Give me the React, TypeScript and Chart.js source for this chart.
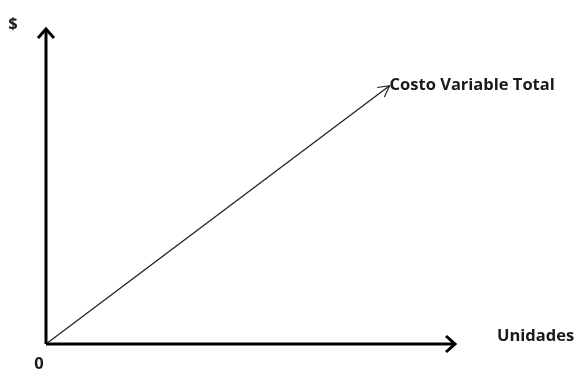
import React, { useEffect, useRef } from "react";
import { Chart, registerables } from "chart.js";

Chart.register(...registerables);

// Data (arbitrary units; graph is conceptual)
const axisMax = 100;
const unitsAxis = [0, axisMax]; // x-axis extent
const moneyAxis = [0, axisMax]; // y-axis extent
const costUnits = [0, 84];
const costTotal = [0, 82];
const seriesLabel = "Costo Variable Total";
const xAxisLabel = "Unidades";
const yAxisLabel = "$";
const originLabel = "0";

const FONT = "'Open Sans', sans-serif";

function drawChevron(ctx: CanvasRenderingContext2D, x: number, y: number, ang: number, len: number, half: number, lw: number, color: string) {
  ctx.save();
  ctx.translate(x, y);
  ctx.rotate(ang);
  ctx.strokeStyle = color;
  ctx.lineWidth = lw;
  ctx.lineJoin = "miter";
  ctx.lineCap = "butt";
  ctx.beginPath();
  ctx.moveTo(-len, -half);
  ctx.lineTo(0, 0);
  ctx.lineTo(-len, half);
  ctx.stroke();
  ctx.restore();
}

const annotPlugin = {
  id: "annot",
  afterDatasetsDraw(chart: any) {
    const ctx = chart.ctx as CanvasRenderingContext2D;
    const xs = chart.scales.x;
    const ys = chart.scales.y;
    const ox = xs.getPixelForValue(0);
    const oy = ys.getPixelForValue(0);
    const xEnd = xs.getPixelForValue(unitsAxis[1]);
    const yEnd = ys.getPixelForValue(moneyAxis[1]);
    const cx = xs.getPixelForValue(costUnits[1]);
    const cy = ys.getPixelForValue(costTotal[1]);

    // arrowheads
    drawChevron(ctx, xEnd, oy, 0, 9, 8, 3, "#000");
    drawChevron(ctx, ox, yEnd, -Math.PI / 2, 9, 8, 3, "#000");
    const ang = Math.atan2(cy - oy, cx - ox);
    drawChevron(ctx, cx, cy, ang, 11, 6, 1.2, "#222");

    ctx.save();
    ctx.fillStyle = "#1a1a1a";
    ctx.textBaseline = "middle";
    ctx.font = `bold 16.5px ${FONT}`;
    ctx.textAlign = "left";
    ctx.fillText(seriesLabel, cx, cy);
    ctx.fillText(xAxisLabel, xEnd + 42, oy - 8);
    ctx.textAlign = "center";
    ctx.fillText(yAxisLabel, ox - 33, yEnd - 5);
    ctx.fillText(originLabel, ox - 7, oy + 20);
    ctx.restore();
  },
};

export default function App() {
  const ref = useRef<HTMLCanvasElement>(null);
  useEffect(() => {
    document.body.style.margin = "0";
    const chart = new Chart(ref.current!, {
      type: "scatter",
      data: {
        datasets: [
          {
            label: "x-axis",
            data: unitsAxis.map((v) => ({ x: v, y: 0 })),
            showLine: true,
            borderColor: "#000",
            borderWidth: 3,
            pointRadius: 0,
            clip: false as any,
          },
          {
            label: "y-axis",
            data: moneyAxis.map((v) => ({ x: 0, y: v })),
            showLine: true,
            borderColor: "#000",
            borderWidth: 3,
            pointRadius: 0,
            clip: false as any,
          },
          {
            label: seriesLabel,
            data: costUnits.map((v, i) => ({ x: v, y: costTotal[i] })),
            showLine: true,
            borderColor: "#222",
            borderWidth: 1.3,
            pointRadius: 0,
            clip: false as any,
          },
        ],
      },
      options: {
        animation: false,
        responsive: false,
        layout: { padding: { left: 46, right: 120, top: 29, bottom: 27 } },
        scales: {
          x: { type: "linear", min: 0, max: axisMax, display: false },
          y: { type: "linear", min: 0, max: axisMax, display: false },
        },
        plugins: { legend: { display: false }, tooltip: { enabled: false } },
      },
      plugins: [annotPlugin],
    });
    return () => chart.destroy();
  }, []);
  return (
    <div style={{ position: "fixed", left: 0, top: 0, width: 575, height: 371, background: "#fff" }}>
      <canvas ref={ref} width={575} height={371} />
    </div>
  );
}
